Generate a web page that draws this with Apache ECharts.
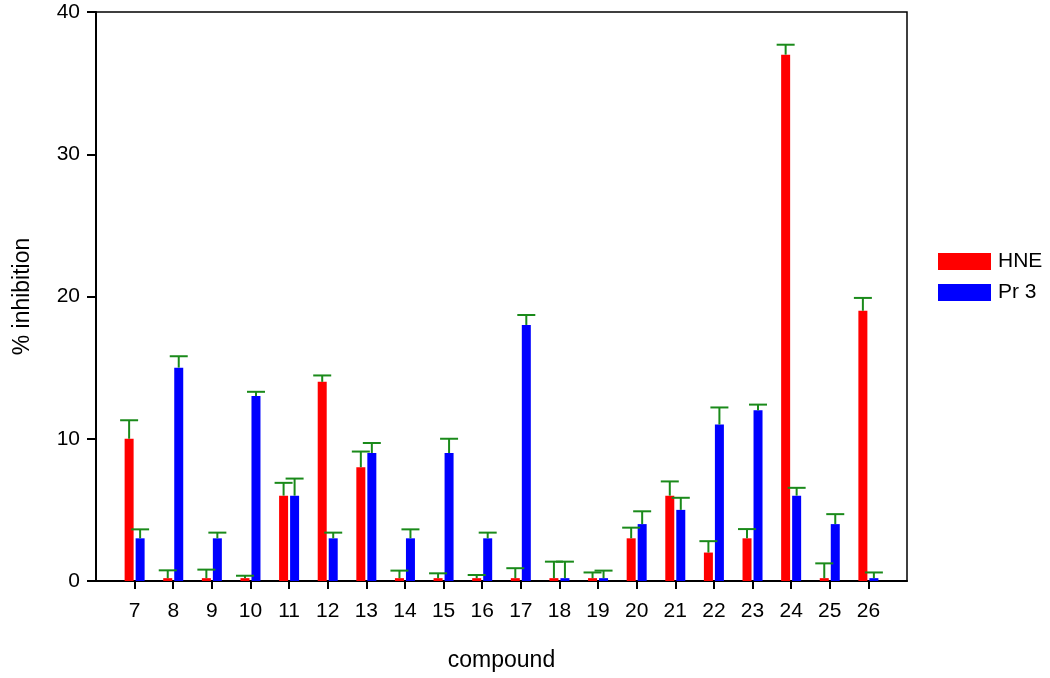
<!DOCTYPE html>
<html>
<head>
<meta charset="utf-8">
<script src="https://cdn.jsdelivr.net/npm/echarts@6/dist/echarts.min.js"></script>
<style>html,body{margin:0;padding:0;background:#fff;}#c{width:1050px;height:678px;}</style>
</head>
<body>
<div id="c"></div>
<script>
const compounds = ['7','8','9','10','11','12','13','14','15','16','17','18','19','20','21','22','23','24','25','26'];
const hne   = [10, 0.2, 0.2, 0.2, 6, 14, 8, 0.2, 0.2, 0.2, 0.2, 0.2, 0.2, 3, 6, 2, 3, 37, 0.2, 19];
const hneSE = [1.3, 0.55, 0.6, 0.17, 0.9, 0.45, 1.1, 0.53, 0.34, 0.22, 0.7, 1.16, 0.4, 0.75, 1.0, 0.8, 0.65, 0.7, 1.04, 0.9];
const pr3   = [3, 15, 3, 13, 6, 3, 9, 3, 9, 3, 18, 0.2, 0.2, 4, 5, 11, 12, 6, 4, 0.2];
const pr3SE = [0.63, 0.8, 0.4, 0.3, 1.2, 0.4, 0.7, 0.63, 1.0, 0.4, 0.7, 1.16, 0.53, 0.9, 0.85, 1.2, 0.4, 0.55, 0.7, 0.4];
const yTicks = [0, 10, 20, 30, 40];

const axisCats = [''].concat(compounds, ['']);
const pad = arr => ['-'].concat(arr, ['-']);
function errData(vals, se) {
  return vals.map((v, i) => [i + 1, v, v + se[i]]);
}
const BAR_W = 9, GAP = 2, CAP = 18;
function errRender(offset) {
  return function (params, api) {
    const top = api.coord([api.value(0), api.value(2)]);
    const base = api.coord([api.value(0), api.value(1)]);
    const x = top[0] + offset;
    const style = { stroke: '#1a8a1a', lineWidth: 2 };
    return {
      type: 'group',
      children: [
        { type: 'line', shape: { x1: x, y1: base[1], x2: x, y2: top[1] }, style: style },
        { type: 'line', shape: { x1: x - CAP / 2, y1: top[1], x2: x + CAP / 2, y2: top[1] }, style: style }
      ]
    };
  };
}
const chart = echarts.init(document.getElementById('c'));
const font = 'Liberation Sans, Arial, sans-serif';
chart.setOption({
  animation: false,
  backgroundColor: '#fff',
  grid: { left: 96, right: 143, top: 12, bottom: 97, show: true, borderColor: '#000', borderWidth: 1.5 },
  legend: {
    orient: 'vertical', left: 933, top: 246, itemWidth: 53, itemHeight: 17, itemGap: 10,
    icon: 'rect', data: ['HNE', 'Pr 3'],
    textStyle: { fontFamily: font, fontSize: 21, color: '#000', padding: [0, 0, 0, 2] }
  },
  xAxis: {
    type: 'category', data: axisCats, boundaryGap: false,
    name: 'compound', nameLocation: 'middle', nameGap: 68,
    nameTextStyle: { fontFamily: font, fontSize: 23, color: '#000' },
    axisLine: { lineStyle: { color: '#000', width: 2 } },
    axisTick: { length: 8, lineStyle: { color: '#000', width: 2 }, interval: (i) => i > 0 && i < axisCats.length - 1 },
    axisLabel: { fontFamily: font, fontSize: 21, color: '#000', margin: 20, interval: (i) => i > 0 && i < axisCats.length - 1 },
    splitLine: { show: false }
  },
  yAxis: {
    type: 'value', min: yTicks[0], max: yTicks[yTicks.length - 1], interval: 10,
    name: '% inhibition', nameLocation: 'middle', nameGap: 62, nameRotate: 90,
    nameTextStyle: { fontFamily: font, fontSize: 23, color: '#000' },
    axisLine: { show: true, lineStyle: { color: '#000', width: 2 } },
    axisTick: { show: true, length: 9, lineStyle: { color: '#000', width: 2 } },
    axisLabel: { fontFamily: font, fontSize: 21, color: '#000', margin: 16 },
    splitLine: { show: false }
  },
  series: [
    { name: 'HNE', type: 'bar', data: pad(hne), barWidth: BAR_W, barGap: (GAP / BAR_W * 100) + '%', itemStyle: { color: '#ff0000' } },
    { name: 'Pr 3', type: 'bar', data: pad(pr3), barWidth: BAR_W, itemStyle: { color: '#0000ff' } },
    { type: 'custom', data: errData(hne, hneSE), renderItem: errRender(-(BAR_W + GAP) / 2), encode: { x: 0, y: [1, 2] }, z: 5, silent: true },
    { type: 'custom', data: errData(pr3, pr3SE), renderItem: errRender((BAR_W + GAP) / 2), encode: { x: 0, y: [1, 2] }, z: 5, silent: true }
  ]
});
</script>
</body>
</html>
